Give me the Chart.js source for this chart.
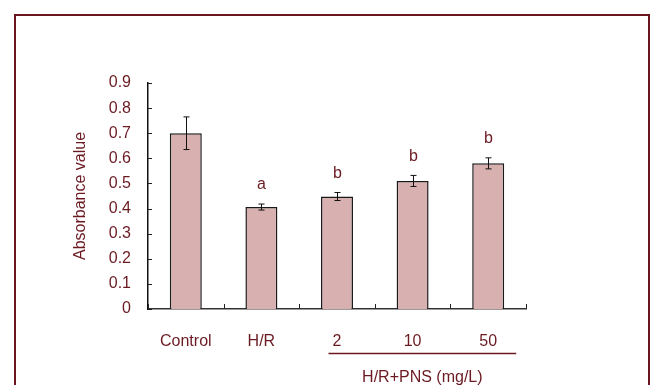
<!DOCTYPE html>
<html>
<head>
<meta charset="utf-8">
<script src="https://cdn.jsdelivr.net/npm/chart.js@4"></script>
<style>
  html, body { margin: 0; padding: 0; background: #fff; }
  #wrap { width: 651px; height: 385px; position: relative; }
</style>
</head>
<body>
<div id="wrap"><canvas id="chart" width="651" height="385"></canvas></div>
<script>
const categories = ["Control", "H/R", "2", "10", "50"];
const absorbance = [0.70, 0.406, 0.448, 0.51, 0.58];
const errors = [0.065, 0.012, 0.016, 0.022, 0.022];
const letters = ["", "a", "b", "b", "b"];
const yTicks = [0, 0.1, 0.2, 0.3, 0.4, 0.5, 0.6, 0.7, 0.8, 0.9];
const groupLabel = "H/R+PNS (mg/L)";

const maroon = "#6b1a22";
const font = "Liberation Sans, Arial, sans-serif";
const fsize = 16;

// frame, inward ticks, error bars, letters and the group underline
const extras = {
  id: "extras",
  afterDatasetsDraw(chart) {
    const { ctx, scales: { x, y }, chartArea } = chart;
    ctx.save();

    // error bars
    ctx.strokeStyle = "#111";
    ctx.lineWidth = 1;
    absorbance.forEach((v, i) => {
      const cx = Math.round(x.getPixelForValue(i)) + 0.5;
      const top = y.getPixelForValue(v + errors[i]);
      const bot = y.getPixelForValue(v - errors[i]);
      ctx.beginPath();
      ctx.moveTo(cx, top); ctx.lineTo(cx, bot);
      ctx.moveTo(cx - 3, top); ctx.lineTo(cx + 3, top);
      ctx.moveTo(cx - 3, bot); ctx.lineTo(cx + 3, bot);
      ctx.stroke();

      if (letters[i]) {
        ctx.fillStyle = maroon;
        ctx.font = fsize + "px " + font;
        ctx.textAlign = "center";
        ctx.textBaseline = "middle";
        ctx.fillText(letters[i], cx, top - 19);
      }
    });

    // inward tick marks
    ctx.strokeStyle = "#222";
    ctx.beginPath();
    yTicks.forEach(t => {
      const py = Math.round(y.getPixelForValue(t)) + 0.5;
      ctx.moveTo(chartArea.left, py); ctx.lineTo(chartArea.left + 4, py);
    });
    for (let i = 0; i <= categories.length; i++) {
      const px = Math.round(x.getPixelForValue(i - 0.5)) + 0.5;
      ctx.moveTo(px, chartArea.bottom); ctx.lineTo(px, chartArea.bottom - 5);
    }
    ctx.stroke();

    // group underline + label
    const x1 = x.getPixelForValue(2) - 8.5;
    const x2 = x.getPixelForValue(4) + 28;
    ctx.strokeStyle = maroon;
    ctx.lineWidth = 1.5;
    ctx.beginPath();
    ctx.moveTo(x1, 353.5); ctx.lineTo(x2, 353.5);
    ctx.stroke();
    ctx.fillStyle = maroon;
    ctx.font = fsize + "px " + font;
    ctx.textAlign = "center";
    ctx.textBaseline = "middle";
    ctx.fillText(groupLabel, (x1 + x2) / 2, 378);

    // outer frame
    ctx.strokeStyle = "#6b1520";
    ctx.lineWidth = 2;
    ctx.strokeRect(15, 15, 634, 400);
    ctx.restore();
  }
};

new Chart(document.getElementById("chart"), {
  type: "bar",
  data: {
    labels: categories,
    datasets: [{
      data: absorbance,
      backgroundColor: "#d9b0b0",
      borderColor: "#1a1a1a",
      borderWidth: 1.5,
      borderSkipped: "bottom",
      barPercentage: 0.423,
      categoryPercentage: 1
    }]
  },
  options: {
    responsive: false,
    animation: false,
    layout: { padding: { left: 0, top: 83, right: 125, bottom: 0 } },
    plugins: { legend: { display: false }, tooltip: { enabled: false } },
    scales: {
      x: {
        afterFit: s => { s.height = 76; },
        grid: { display: false, drawTicks: false },
        border: { display: true, color: "#333", width: 1.5 },
        ticks: { color: maroon, font: { family: font, size: fsize }, padding: 23 }
      },
      y: {
        min: 0,
        max: 0.9,
        afterFit: s => { s.width = 148; },
        afterBuildTicks: s => { s.ticks = yTicks.map(v => ({ value: v })); },
        grid: { display: false, drawTicks: false },
        border: { display: true, color: "#111", width: 1.5 },
        ticks: {
          color: maroon,
          font: { family: font, size: fsize },
          padding: 17,
          callback: v => String(Math.round(v * 10) / 10)
        },
        title: {
          display: true,
          text: "Absorbance value",
          color: maroon,
          font: { family: font, size: fsize },
          padding: { top: 71, bottom: 0 }
        }
      }
    }
  },
  plugins: [extras]
});
</script>
</body>
</html>
